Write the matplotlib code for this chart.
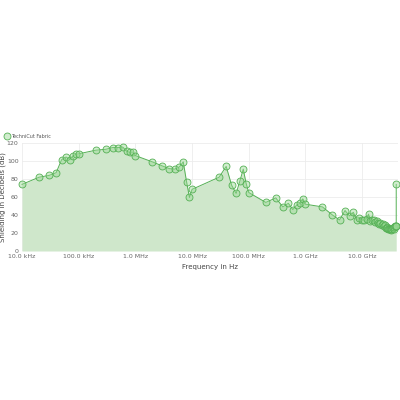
import numpy as np
import matplotlib
matplotlib.use("Agg")
import matplotlib.pyplot as plt
from matplotlib.lines import Line2D

# 数据（频率 Hz，屏蔽效能 dB）
freq_hz = [
    10e3, 20e3, 30e3, 40e3, 50e3, 60e3, 70e3, 80e3, 90e3,
    100e3, 200e3, 300e3, 400e3, 500e3, 600e3, 700e3, 800e3, 900e3,
    1e6, 2e6, 3e6, 4e6, 5e6, 6e6, 7e6, 8e6, 9e6,
    10e6, 30e6, 40e6, 50e6, 60e6, 70e6, 80e6, 90e6,
    100e6, 200e6, 300e6, 400e6, 500e6, 600e6, 700e6, 800e6, 900e6,
    1e9, 2e9, 3e9, 4e9, 5e9, 6e9, 7e9, 8e9, 9e9,
    10e9, 11e9, 12e9, 13e9, 14e9, 15e9, 16e9, 17e9, 18e9, 19e9,
    20e9, 21e9, 22e9, 23e9, 24e9, 25e9, 26e9, 27e9, 28e9, 29e9,
    30e9, 31e9, 32e9, 33e9, 34e9, 35e9, 36e9, 37e9, 38e9, 39e9,
    40e9, 40e9,
]
shielding_db = [
    74, 82, 84, 87, 101.5, 104.5, 101.5, 106, 107.5,
    108, 112, 113, 115, 115, 115.5, 111, 109.5, 110,
    106, 99, 94.5, 91.5, 91, 93.5, 99, 77, 59.5,
    68.5, 82, 94, 73, 64, 78, 91, 75,
    65, 54, 59, 49, 53, 46, 51, 53, 58,
    52, 49, 40, 34.5, 45, 39, 43, 35, 36.5,
    35, 34, 36, 41, 33, 35, 34, 32, 33, 31,
    30, 31, 29, 30, 28, 29, 26, 27, 26, 25,
    25, 24, 23, 25, 24, 26, 25, 27, 28, 28,
    28, 74,
]
series_name = "TechniCut Fabric"

x_ticks = [1e4, 1e5, 1e6, 1e7, 1e8, 1e9, 1e10]
x_tick_labels = ["10.0 kHz", "100.0 kHz", "1.0 MHz", "10.0 MHz",
                 "100.0 MHz", "1.0 GHz", "10.0 GHz"]
y_ticks = [0, 20, 40, 60, 80, 100, 120]

line_color = "#55b055"
fill_color = "#cfe7cb"
face_color = (0.6, 0.85, 0.58, 0.45)
text_color = "#666666"

fig = plt.figure(figsize=(4, 4), dpi=100)
ax = fig.add_axes([0.055, 0.3725, 0.94, 0.27])

ax.fill_between(freq_hz, shielding_db, 0, color=fill_color, linewidth=0, zorder=1)
ax.plot(freq_hz, shielding_db, color=line_color, linewidth=0.7,
        marker="o", markersize=5, markerfacecolor=face_color,
        markeredgecolor=line_color, markeredgewidth=0.6,
        clip_on=False, zorder=3)

ax.set_xscale("log")
ax.set_xlim(1e4, 4.3e10)
ax.set_ylim(0, 120)
ax.set_xticks(x_ticks)
ax.set_xticklabels(x_tick_labels)
ax.minorticks_off()
ax.set_yticks(y_ticks)
ax.tick_params(axis="both", length=0, labelsize=4.5, colors=text_color, pad=2.5)

# 网格线
ax.grid(True, color="#ececec", linewidth=0.6, zorder=0)
ax.set_axisbelow(True)
for side in ["top", "right", "bottom", "left"]:
    ax.spines[side].set_visible(False)

ax.set_xlabel("Frequency in Hz", fontsize=5, color="#444444", labelpad=3)
ax.set_ylabel("Shielding in Decibels (dB)", fontsize=5, color="#444444")
ax.yaxis.set_label_coords(-0.043, 0.5)

# 图例
handle = Line2D([], [], color=line_color, linestyle="none", marker="o",
                markersize=5, markerfacecolor=face_color,
                markeredgecolor=line_color, markeredgewidth=0.6)
fig.legend([handle], [series_name], loc="center left",
           bbox_to_anchor=(0.0, 0.66), frameon=False, fontsize=3.5,
           handletextpad=0.2, handlelength=1.2, labelcolor="#555555")

fig.savefig("out.png", dpi=100)
